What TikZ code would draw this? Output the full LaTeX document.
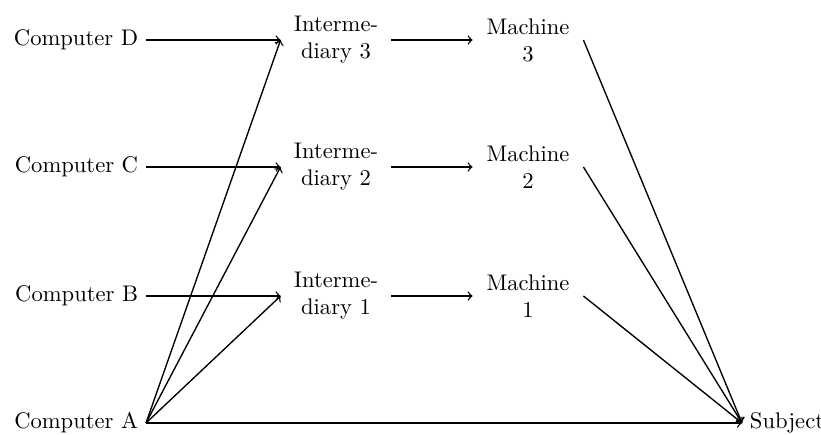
\documentclass[tikz,border=0pt]{standalone}
\begin{document}
\begin{tikzpicture}[x=0.4425pt,y=-0.4425pt,
  src/.style={inner sep=3.33pt},
  mid/.style={text width=42pt,align=center,inner sep=3.33pt},
  link/.style={->,semithick}]
\useasboundingbox (0,0) rectangle (821,435);
% sources
\node[src,anchor=east] (cd) at (146,40) {Computer D};
\node[src,anchor=east] (cc) at (146,167) {Computer C};
\node[src,anchor=east] (cb) at (146,296) {Computer B};
\node[src,anchor=east] (ca) at (146,423) {Computer A};
% intermediaries
\node[mid] (i3) at (336,40) {Interme-\\diary 3};
\node[mid] (i2) at (336,167) {Interme-\\diary 2};
\node[mid] (i1) at (336,296) {Interme-\\diary 1};
% machines
\node[mid] (m3) at (528,40) {Machine\\3};
\node[mid] (m2) at (528,167) {Machine\\2};
\node[mid] (m1) at (528,296) {Machine\\1};
% target
\node[src,anchor=west] (s) at (742,423) {Subject};
% connections
\draw[link] (cd) -- (i3);
\draw[link] (cc) -- (i2);
\draw[link] (cb) -- (i1);
\draw[link] (ca.east) -- (i3.west);
\draw[link] (ca.east) -- (i2.west);
\draw[link] (ca.east) -- (i1.west);
\draw[link] (ca) -- (s);
\draw[link] (i3) -- (m3);
\draw[link] (i2) -- (m2);
\draw[link] (i1) -- (m1);
\draw[link] (m3.east) -- (s.west);
\draw[link] (m2.east) -- (s.west);
\draw[link] (m1.east) -- (s.west);
\end{tikzpicture}
\end{document}
